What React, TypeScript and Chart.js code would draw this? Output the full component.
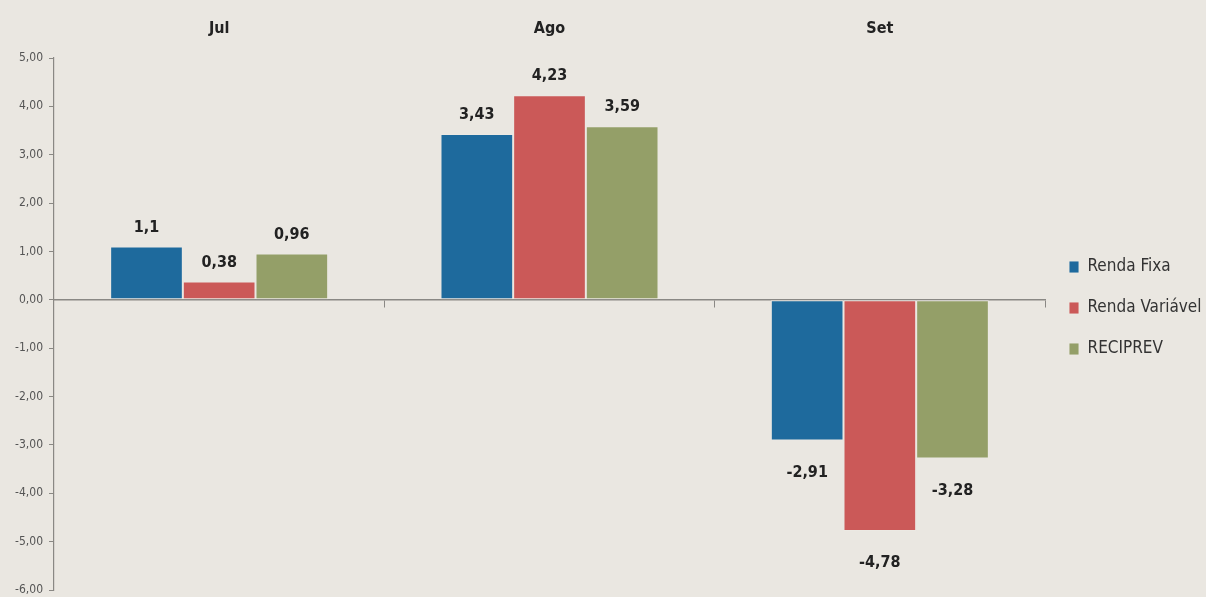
import React, { useEffect, useRef } from "react";
import { Chart, registerables } from "chart.js";

Chart.register(...registerables);

const categories = ["Jul", "Ago", "Set"];
const seriesNames = ["Renda Fixa", "Renda Variável", "RECIPREV"];
const rendaFixa = [1.1, 3.43, -2.91];
const rendaVariavel = [0.38, 4.23, -4.78];
const reciprev = [0.96, 3.59, -3.28];
const seriesColors = ["#1e6a9d", "#cb5958", "#949f68"];
const yMin = -6;
const yMax = 5;

const FONT = "'Liberation Sans Narrow', 'DejaVu Sans Condensed', 'Noto Sans', sans-serif";

const fmt = (v: number) => String(v).replace(".", ",");

const barLabels = {
  id: "barLabels",
  afterDatasetsDraw(chart: any) {
    const ctx = chart.ctx;
    ctx.save();
    ctx.font = `bold 16px ${FONT}`;
    ctx.fillStyle = "#222";
    ctx.textAlign = "center";
    ctx.textBaseline = "middle";
    chart.data.datasets.forEach((ds: any, i: number) => {
      const meta = chart.getDatasetMeta(i);
      meta.data.forEach((el: any, j: number) => {
        const v = ds.data[j];
        const y = v >= 0 ? el.y - 19 : el.y + 32;
        ctx.fillText(fmt(v), el.x, y);
      });
    });
    ctx.restore();
  },
};

export default function App() {
  const ref = useRef<HTMLCanvasElement>(null);
  useEffect(() => {
    document.body.style.margin = "0";
    const all = [rendaFixa, rendaVariavel, reciprev];
    const chart = new Chart(ref.current!, {
      type: "bar",
      data: {
        labels: categories,
        datasets: all.map((d, i) => ({
          label: seriesNames[i],
          data: d,
          backgroundColor: seriesColors[i],
          borderColor: "rgba(236,233,227,0.9)",
          borderWidth: 1,
          borderSkipped: false,
          categoryPercentage: 0.66,
          barPercentage: 1.0,
          xAxisID: "x",
        })),
      },
      options: {
        animation: false,
        responsive: false,
        maintainAspectRatio: false,
        layout: { padding: { left: 8, right: 0, top: 0, bottom: 0 } },
        plugins: {
          tooltip: { enabled: false },
          legend: {
            position: "right",
            maxWidth: 161,
            title: { display: true, text: "", font: { size: 10 }, padding: { top: 3.5, bottom: 3.5 } },
            labels: {
              boxWidth: 10,
              boxHeight: 12,
              padding: 24,
              color: "#333",
              font: { family: FONT, size: 17 },
            },
          },
        },
        scales: {
          x: {
            type: "category",
            position: "top",
            offset: true,
            grid: { display: false, drawTicks: false },
            border: { display: false },
            ticks: { color: "#222", padding: 20, font: { family: FONT, size: 16, weight: "bold" } },
            afterFit: (s: any) => {
              s.height = 58;
            },
          },
          x2: {
            type: "category",
            axis: "x",
            position: { y: 0 } as any,
            offset: true,
            grid: { offset: true, drawOnChartArea: false, tickLength: 7, color: "#8a8884" },
            border: { display: true, color: "#8a8884", width: 1.5 },
            ticks: { display: false },
          },
          y: {
            min: yMin,
            max: yMax,
            ticks: {
              stepSize: 1,
              color: "#555",
              padding: 6,
              font: { family: FONT, size: 12 },
              callback: (v: any) => Number(v).toFixed(2).replace(".", ","),
            },
            grid: { drawOnChartArea: false, tickLength: 5, color: "#8a8884" },
            border: { display: true, color: "#8a8884", width: 1.2 },
            afterFit: (s: any) => {
              s.width = 46;
              s.paddingTop = 0;
              s.paddingBottom = 7;
            },
          },
        },
      },
      plugins: [barLabels],
    } as any);
    return () => chart.destroy();
  }, []);
  return (
    <div style={{ position: "fixed", left: 0, top: 0, width: 1206, height: 597, background: "#eae7e1" }}>
      <canvas ref={ref} width={1206} height={597} style={{ display: "block" }} />
    </div>
  );
}
